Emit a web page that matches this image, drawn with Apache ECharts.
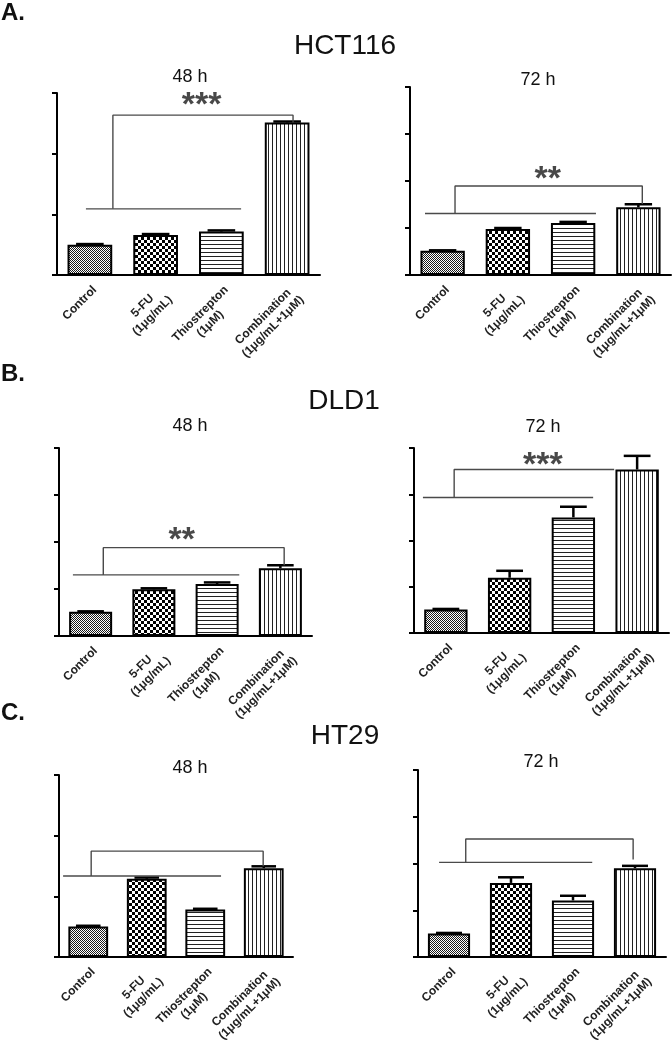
<!DOCTYPE html>
<html><head><meta charset="utf-8">
<script src="https://cdn.jsdelivr.net/npm/echarts@6/dist/echarts.min.js"></script>
<style>html,body{margin:0;padding:0;background:#fff}#c{width:672px;height:1044px}</style>
</head><body><div id="c"></div>
<script>
// ---------- data ----------
const categories = ['Control', '5-FU\n(1\u03bcg/mL)', 'Thiostrepton\n(1\u03bcM)', 'Combination\n(1\u03bcg/mL+1\u03bcM)'];

const hct116_48h = [1.00, 1.32, 1.43, 5.03];
const hct116_48h_err = [0.02, 0.03, 0.04, 0.03];
const hct116_72h = [1.03, 1.96, 2.21, 2.88];
const hct116_72h_err = [0.02, 0.04, 0.05, 0.13];
const dld1_48h = [1.03, 1.99, 2.21, 2.88];
const dld1_48h_err = [0.02, 0.04, 0.07, 0.13];
const dld1_72h = [1.02, 2.39, 5.00, 7.07];
const dld1_72h_err = [0.02, 0.30, 0.46, 0.59];
const ht29_48h = [1.01, 2.58, 1.57, 2.93];
const ht29_48h_err = [0.02, 0.04, 0.02, 0.06];
const ht29_72h = [1.01, 3.17, 2.42, 3.80];
const ht29_72h_err = [0.02, 0.24, 0.20, 0.10];

const yMaxes = [6, 8, 8, 8, 6, 8];
const yInterval = 2;

// significance brackets: [lowFrom, lowTo, lowY, upFrom, upTo, upY, dropY]  (x in category-band units 0..4)
const hct116_48h_bracket = [0.44, 2.80, 2.18, 0.85, 3.59, 5.27, 5.03];
const hct116_72h_bracket = [0.23, 2.85, 2.62, 0.69, 3.56, 3.79, 3.02];
const dld1_48h_bracket   = [0.22, 2.85, 2.60, 0.70, 3.56, 3.76, 3.01];
const dld1_72h_bracket   = [0.14, 2.81, 5.86, 0.63, 3.14, 7.07, 7.07];
const ht29_48h_bracket   = [0.07, 2.77, 2.67, 0.55, 3.49, 3.49, 2.99];
const ht29_72h_bracket   = [0.34, 2.81, 4.05, 0.77, 3.47, 5.05, 4.17];

// star labels: [x, y, text]
const hct116_48h_stars = [2.20, 5.84, '***'];
const hct116_72h_stars = [2.11, 4.38, '**'];
const dld1_48h_stars   = [1.94, 4.38, '**'];
const dld1_72h_stars   = [2.02, 7.60, '***'];
const ht29_48h_stars   = null;
const ht29_72h_stars   = null;

const panelValues = [hct116_48h, hct116_72h, dld1_48h, dld1_72h, ht29_48h, ht29_72h];
const panelErrors = [hct116_48h_err, hct116_72h_err, dld1_48h_err, dld1_72h_err, ht29_48h_err, ht29_72h_err];
const panelBrackets = [hct116_48h_bracket, hct116_72h_bracket, dld1_48h_bracket, dld1_72h_bracket, ht29_48h_bracket, ht29_72h_bracket];
const panelStars = [hct116_48h_stars, hct116_72h_stars, dld1_48h_stars, dld1_72h_stars, ht29_48h_stars, ht29_72h_stars];

// ---------- layout / style ----------
const FONT = '"Liberation Sans", Arial, sans-serif';
const LBL = 12;
const boxes = [
  {left: 57, top: 93, width: 263, height: 182},
  {left: 410, top: 87, width: 261, height: 188},
  {left: 59, top: 448, width: 253, height: 188},
  {left: 414, top: 448, width: 255, height: 185},
  {left: 59, top: 775, width: 234, height: 187},
  {left: 418, top: 770, width: 248, height: 188}
];
function pattern(w, h, ink, draw) {
  const c = document.createElement('canvas');
  c.width = w; c.height = h;
  const g = c.getContext('2d');
  g.fillStyle = '#fff'; g.fillRect(0, 0, w, h);
  g.fillStyle = ink; draw(g);
  return {image: c, repeat: 'repeat'};
}
const fills = [
  pattern(2, 2, '#1a1a1a', g => { g.fillRect(0, 0, 1, 1); g.fillRect(1, 1, 1, 1); }),
  pattern(6, 6, '#000', g => { g.fillRect(0, 0, 3, 3); g.fillRect(3, 3, 3, 3); }),
  pattern(4, 4, '#222', g => { g.fillRect(0, 0, 4, 1); }),
  pattern(4, 4, '#222', g => { g.fillRect(0, 0, 1, 4); })
];

const grid = [], xAxis = [], yAxis = [], series = [];
boxes.forEach((b, i) => {
  grid.push(Object.assign({containLabel: false}, b));
  xAxis.push({
    type: 'category', gridIndex: i, data: categories,
    axisLine: {lineStyle: {color: '#000', width: 2}},
    axisTick: {alignWithLabel: true, length: 5, lineStyle: {color: '#000', width: 1.5}},
    axisLabel: {
      interval: 0, rotate: 45, margin: 8, color: '#222', align: 'right', verticalAlign: 'top',
      fontFamily: FONT, fontWeight: 'bold', fontSize: LBL,
      formatter: v => v.split('\n').map(s => '{c|' + s + '}').join('\n'),
      rich: {c: {align: 'center', fontFamily: FONT, fontWeight: 'bold', fontSize: LBL, lineHeight: 14, color: '#222'}}
    }
  });
  xAxis.push({type: 'value', gridIndex: i, min: 0, max: 4, show: false});
  yAxis.push({
    type: 'value', gridIndex: i, min: 0, max: yMaxes[i], interval: yInterval,
    axisLine: {show: true, lineStyle: {color: '#000', width: 2}},
    axisTick: {show: true, length: 5, lineStyle: {color: '#000', width: 2}},
    axisLabel: {show: false}, splitLine: {show: false}
  });
  const vals = panelValues[i], errs = panelErrors[i];
  series.push({
    type: 'bar', xAxisIndex: 2 * i, yAxisIndex: i, barWidth: '68%', z: 2,
    itemStyle: {borderColor: '#000', borderWidth: 2},
    data: vals.map((v, j) => ({value: v, itemStyle: {color: fills[j]}}))
  });
  series.push({
    type: 'custom', xAxisIndex: 2 * i, yAxisIndex: i, z: 3,
    encode: {x: 0, y: [1, 2]},
    data: vals.map((v, j) => [j, v, errs[j]]),
    renderItem: (params, api) => {
      const x = api.value(0), v = api.value(1), e = api.value(2);
      const top = api.coord([x, v + e]);
      const base = api.coord([x, v]);
      const hw = api.size([1, 0])[0] * 0.21;
      const st = {stroke: '#000', lineWidth: 2.5};
      return {type: 'group', children: [
        {type: 'line', shape: {x1: top[0], y1: top[1], x2: base[0], y2: base[1]}, style: st},
        {type: 'line', shape: {x1: top[0] - hw, y1: top[1], x2: top[0] + hw, y2: top[1]}, style: st}
      ]};
    }
  });
  const br = panelBrackets[i];
  const ls = {color: '#4a4a4a', width: 1.4};
  series.push({
    type: 'line', xAxisIndex: 2 * i + 1, yAxisIndex: i, symbol: 'none', z: 4, lineStyle: ls,
    data: [[br[0], br[2]], [br[1], br[2]]]
  });
  series.push({
    type: 'line', xAxisIndex: 2 * i + 1, yAxisIndex: i, symbol: 'none', z: 4, lineStyle: ls,
    data: [[br[3], br[2]], [br[3], br[5]], [br[4], br[5]], [br[4], br[6]]]
  });
  const s = panelStars[i];
  if (s) {
    series.push({
      type: 'scatter', xAxisIndex: 2 * i + 1, yAxisIndex: i, symbolSize: 0, z: 5,
      data: [[s[0], s[1]]],
      label: {show: true, position: 'inside', formatter: s[2], color: '#1a1a1a', fontFamily: FONT, fontWeight: 'bold', fontSize: 34, offset: [0, 8]}
    });
  }
});

function txt(x, y, text, size, weight, align) {
  return {type: 'text', x: x, y: y, style: {text: text, fill: '#111', font: (weight || 'normal') + ' ' + size + 'px ' + FONT, align: align || 'center', verticalAlign: 'middle'}};
}
const graphic = [
  txt(1, 13, 'A.', 24, 'bold', 'left'),
  txt(345, 46, 'HCT116', 28),
  txt(190, 77, '48 h', 18),
  txt(538, 80, '72 h', 18),
  txt(1, 374, 'B.', 24, 'bold', 'left'),
  txt(344, 401, 'DLD1', 28),
  txt(190, 426, '48 h', 18),
  txt(543, 427, '72 h', 18),
  txt(1, 713, 'C.', 24, 'bold', 'left'),
  txt(345, 736, 'HT29', 28),
  txt(190, 768, '48 h', 18),
  txt(541, 762, '72 h', 18)
];

const chart = echarts.init(document.getElementById('c'), null, {renderer: 'canvas'});
chart.setOption({animation: false, backgroundColor: '#fff', grid, xAxis, yAxis, series, graphic});
</script>
</body></html>
